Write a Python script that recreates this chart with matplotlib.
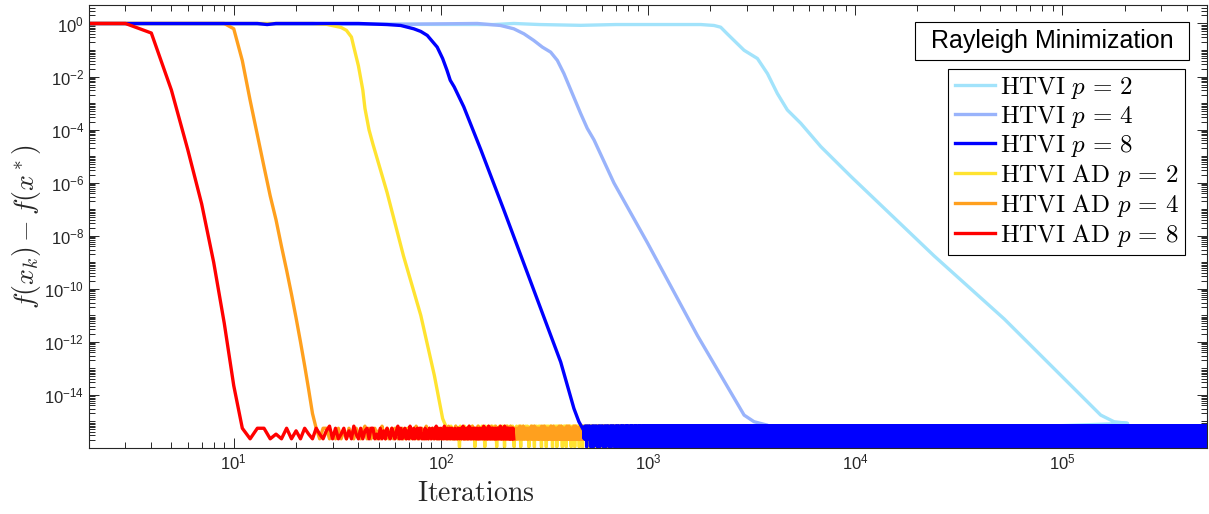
import numpy as np
import matplotlib
matplotlib.use('Agg')
from matplotlib import pyplot as plt
from matplotlib import ticker
from matplotlib.patches import Rectangle

plt.rcParams['font.family'] = ['Liberation Sans', 'DejaVu Sans']

labels = [r'$\mathrm{HTVI}\ p\,=\,2$', r'$\mathrm{HTVI}\ p\,=\,4$', r'$\mathrm{HTVI}\ p\,=\,8$',
          r'$\mathrm{HTVI\ AD}\ p\,=\,2$', r'$\mathrm{HTVI\ AD}\ p\,=\,4$',
          r'$\mathrm{HTVI\ AD}\ p\,=\,8$']
colors = ['#a2e3fb', '#99b3fb', '#0000ff', '#ffe330', '#ffa01e', '#ff0000']

# descent part: iteration and log10(f(x_k) - f(x*))
htvi2_it = [1, 180, 225, 300, 473, 700, 1200, 1800, 2084, 2244, 2414, 2603, 2911, 3376,
            3776, 4215, 4710, 5466, 6830, 9530, 24080, 52560, 106100, 153500, 178000, 207000]
htvi2_log = [0, -0.04, 0.0, -0.04, -0.07, -0.04, -0.04, -0.04, -0.075, -0.14, -0.39, -0.64,
             -1.01, -1.32, -1.89, -2.64, -3.26, -3.76, -4.64, -5.76, -8.76, -11.14, -13.51,
             -14.76, -15.01, -15.07]

htvi4_it = [1, 60, 150, 194, 225, 252, 281, 309, 339, 365, 393, 431, 473, 509, 549, 685,
            993, 1733, 2912, 3254, 3775]
htvi4_log = [0, -0.03, 0.0, -0.075, -0.2, -0.39, -0.64, -0.89, -1.08, -1.39, -1.89, -2.64,
             -3.39, -3.95, -4.39, -6.01, -8.26, -11.76, -14.76, -15.01, -15.14]

htvi8_it = [1, 13, 14.5, 16, 40, 55, 64, 74, 80, 86, 96, 102, 107, 111, 116, 129, 156, 201,
            292, 379, 439, 464]
htvi8_log = [0, 0, -0.04, 0, 0, -0.04, -0.075, -0.2, -0.3, -0.45, -0.89, -1.32, -1.76, -2.14,
             -2.39, -3.14, -4.76, -7.01, -10.39, -12.76, -14.51, -15.01]

ad2_it = [1, 24, 28, 33, 35, 37, 38, 40, 42, 43, 45, 47, 55, 66, 80, 93, 102]
ad2_log = [0, 0, -0.03, -0.15, -0.26, -0.51, -0.89, -1.6, -2.51, -3.2, -4.01, -4.55, -6.37,
           -8.76, -11.0, -13.26, -14.89]

ad4_it = [1, 9, 10, 11, 12, 13, 14, 15, 16, 17, 18, 19, 20, 21, 22, 23, 24]
ad4_log = [0, 0, -0.2, -1.4, -2.9, -4.2, -5.4, -6.5, -7.4, -8.4, -9.3, -10.2, -11.1,
           -12.0, -12.9, -13.8, -14.7]

ad8_it = [1, 2, 3, 4, 5, 6, 7, 8, 9, 10]
ad8_log = [0, 0, 0, -0.36, -2.51, -4.76, -6.8, -9.0, -11.3, -13.65]

# floor: round-off level, multiples of eps_unit
eps_unit = 1.11e-16
floor_a = [5, 2, 5, 5, 2, 3, 2, 5, 2, 4, 2, 5, 3, 2, 5, 3, 2, 4, 6, 2, 5, 2, 3, 5, 2, 4,
           2, 6, 3, 2, 5, 2, 4]
floor_b = [4, 2, 5, 3, 6, 2, 4, 5, 2, 3, 6, 4, 2, 5, 3, 1, 6, 2, 4, 5, 3, 2, 6, 4, 2, 5,
           3, 2, 4, 6, 5, 2, 3, 4, 6, 2, 5, 3, 1, 4]

# where each run sits on the floor
floor_start = [210000, 3800, 491, 108, 25, 11]
floor_end = [500000, 500000, 500000, 2000, 7500, 225]
floor_pat = [floor_b, floor_b, floor_b, floor_b, floor_a, floor_a]

knots = [(htvi2_it, htvi2_log), (htvi4_it, htvi4_log), (htvi8_it, htvi8_log),
         (ad2_it, ad2_log), (ad4_it, ad4_log), (ad8_it, ad8_log)]


def build(k, pat, start, end):
    x = np.array(k[0], dtype=float)
    y = 10.0 ** np.array(k[1])
    lo = np.arange(start, min(end, 20000) + 1)
    hi = np.array([], dtype=int)
    if end > 20000:
        hi = np.unique(np.round(np.geomspace(20001, end, 20000)).astype(int))
    fx = np.concatenate([lo, hi])
    fy = np.array([pat[i % len(pat)] for i in range(len(fx))]) * eps_unit
    return np.concatenate([x, fx]), np.concatenate([y, fy])


fig = plt.figure(figsize=(12.09, 5.14), dpi=100)
ax = fig.add_axes([0.0736, 0.1284, 0.9247, 0.862])

lines = [None] * 6
for i in [0, 1, 3, 4, 2, 5]:
    x, y = build(knots[i], floor_pat[i], floor_start[i], floor_end[i])
    lines[i], = ax.plot(x, y, color=colors[i], lw=2.4, label=labels[i])

ax.set_xscale('log')
ax.set_yscale('log')
ax.set_xlim(2, 5e5)
ax.set_ylim(1e-16, 5)

ax.yaxis.set_major_locator(ticker.FixedLocator(10.0 ** np.arange(-14, 1, 2)))
ax.yaxis.set_major_formatter(ticker.LogFormatterSciNotation(labelOnlyBase=False))
ax.yaxis.set_minor_locator(ticker.LogLocator(base=10, subs=np.arange(1, 10), numticks=100))
ax.yaxis.set_minor_formatter(ticker.NullFormatter())
ax.xaxis.set_major_locator(ticker.LogLocator(base=10, numticks=20))
ax.xaxis.set_minor_locator(ticker.LogLocator(base=10, subs=np.arange(2, 10), numticks=20))
ax.xaxis.set_minor_formatter(ticker.NullFormatter())

ax.tick_params(which='both', direction='in', top=True, right=True, colors='0.15',
               labelsize=12, width=0.7)
ax.tick_params(which='major', length=7)
ax.tick_params(which='minor', length=4)
for s in ax.spines.values():
    s.set_color('0.15')
    s.set_linewidth(0.8)

ax.set_ylabel(r'$f(x_k) - f(x^*)$', fontsize=20, math_fontfamily='cm', color='0.15',
              labelpad=1)
ax.set_xlabel(r'$\mathrm{Iterations}$', fontsize=20, math_fontfamily='cm', color='0.15')
ax.xaxis.set_label_coords(0.346, -0.075)

# title box
ax.add_patch(Rectangle((0.7388, 0.8758), 0.2452, 0.0865, transform=ax.transAxes,
                       fc='white', ec='black', lw=0.8, zorder=5))
ax.text(0.8614, 0.919, 'Rayleigh Minimization', transform=ax.transAxes, ha='center',
        va='center', fontsize=18, zorder=6)

leg = ax.legend(handles=lines, loc='upper right', bbox_to_anchor=(0.9803, 0.8555),
                borderaxespad=0, fancybox=False, edgecolor='black', framealpha=1,
                prop={'size': 18, 'math_fontfamily': 'cm'}, handlelength=1.6,
                handletextpad=0.2, labelspacing=0.12, borderpad=0.25)
leg.get_frame().set_linewidth(0.8)

fig.savefig('out.png', dpi=100)
